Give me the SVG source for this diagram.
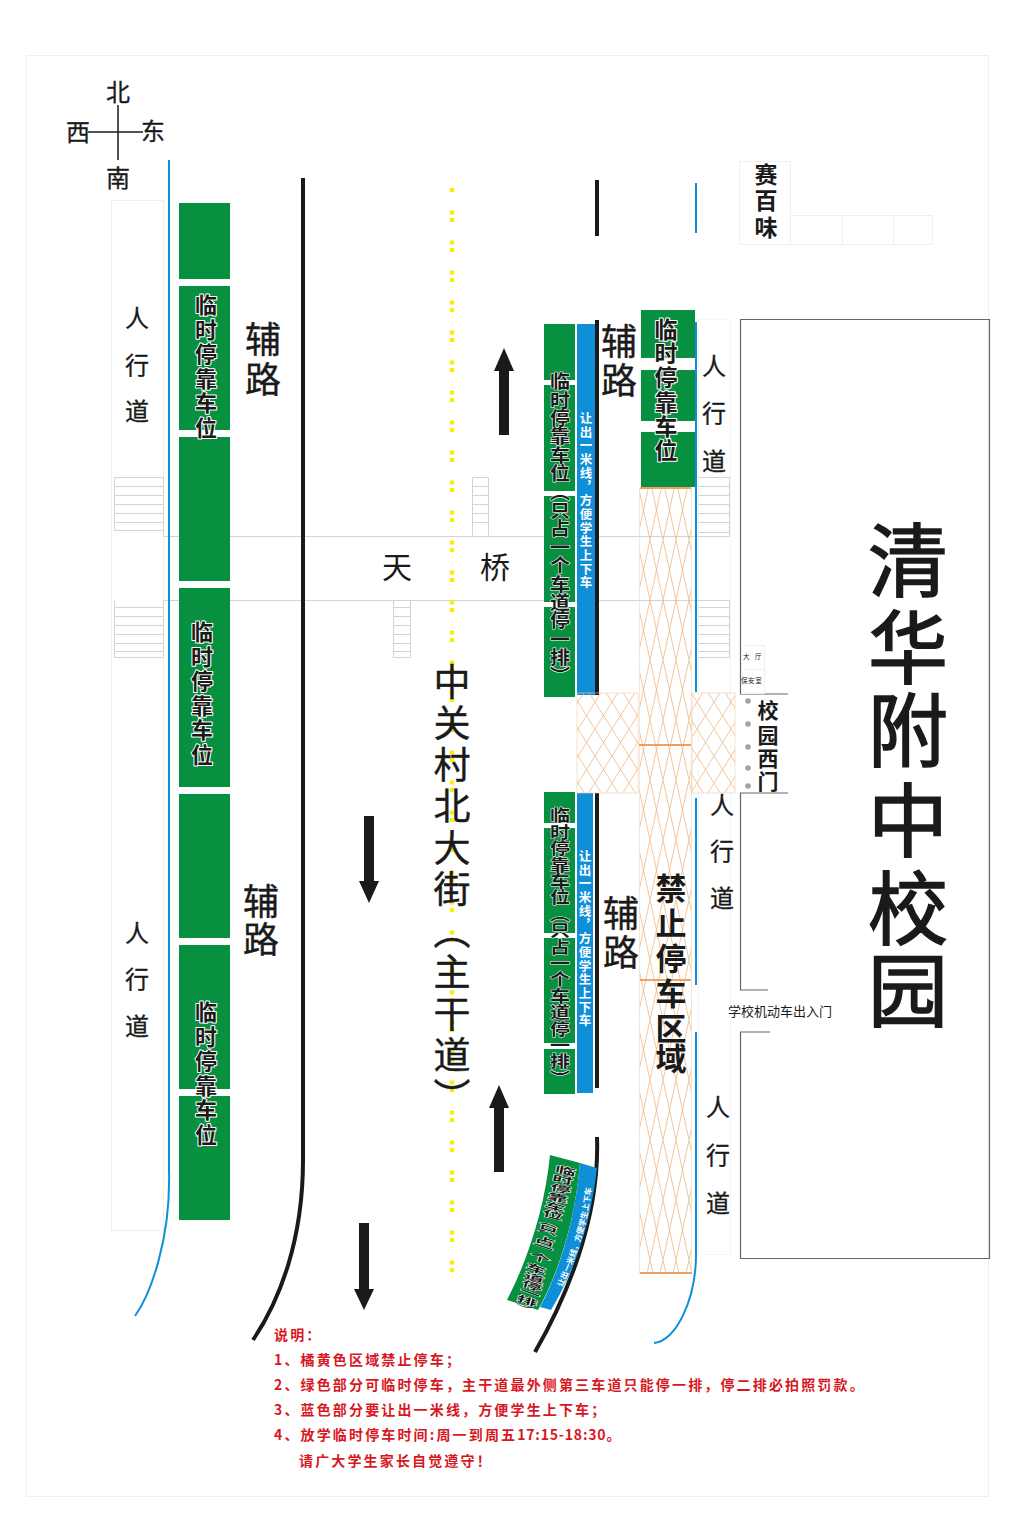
<svg xmlns="http://www.w3.org/2000/svg" width="1024" height="1527" viewBox="0 0 1024 1527">
<style>
text{font-family:"Noto Sans CJK SC","DejaVu Sans",sans-serif;fill:#1a1a1a}
.v{writing-mode:vertical-rl}
.g{fill:#06903f}
.b{fill:#0f8fd8}
.gt{font-weight:700;font-size:22px;text-anchor:middle;stroke:#fff;stroke-width:2px;paint-order:stroke;stroke-linejoin:round}
.gv{font-weight:700;font-size:20px;stroke:#fff;stroke-width:1.200px;paint-order:stroke;stroke-linejoin:round}
.cap{font-size:36px;text-anchor:middle;stroke:#1a1a1a;stroke-width:.4px}
.pw{font-size:24px;text-anchor:middle;stroke:#1a1a1a;stroke-width:.3px}
.bt{font-weight:700;fill:#fff;font-size:12.500px;letter-spacing:1.200px}
.faint{fill:none;stroke:#efefef;stroke-width:1}
.st{fill:none;stroke:#d4d4d4;stroke-width:1}
.leg{fill:#d8181f;font-weight:700;font-size:14px;letter-spacing:2.150px}
.blk{fill:none;stroke:#1a1a1a;stroke-width:4}
.blu{fill:none;stroke:#0f8fd8;stroke-width:2}
.ol{fill:none;stroke:#666;stroke-width:1.200}
.cv{font-weight:700;font-size:16px;stroke:#fff;stroke-width:1.300px;paint-order:stroke;text-anchor:middle}
</style>
<defs>
<pattern id="h1" width="13" height="60" patternUnits="userSpaceOnUse"><path d="M0 0L13 60M13 0L0 60" stroke="#ecae72" stroke-width=".7"/></pattern>
<pattern id="h2" width="17" height="27" patternUnits="userSpaceOnUse"><path d="M0 0L17 27M17 0L0 27" stroke="#ecae72" stroke-width=".7"/></pattern>
<path id="cvp" d="M562 1287C575 1260 588 1225 592 1183"/>
</defs>
<rect width="1024" height="1527" fill="#fff"/>
<rect x="26.500" y="55.500" width="962" height="1441" class="faint"/>
<g id="compass"><path d="M118 105V160M88 132H143" stroke="#1a1a1a" stroke-width="1.500" fill="none"/>
<text x="118" y="101" class="pw">北</text><text x="78" y="141" class="pw">西</text><text x="153" y="140" class="pw">东</text><text x="118" y="187" class="pw">南</text></g>
<g id="sidewalks">
<rect x="111.500" y="200.500" width="52" height="1030" class="faint"/>
<rect x="698.500" y="319.500" width="32" height="935" class="faint" style="stroke:#f6f6f6"/>
</g>
<g id="bridge">
<g transform="translate(.5,.5)">
<path d="M163 536H729M163 600H729" class="st"/>
<path d="M114 477H163V536M114 477V530M114 486H163M114 495H163M114 504H163M114 513H163M114 522H163M114 530H163" class="st"/>
<path d="M114 600V657H163V600M114 607H163M114 616H163M114 625H163M114 634H163M114 643H163M114 651H163" class="st"/>
<path d="M472 535V477H488V535M472 486H488M472 495H488M472 504H488M472 513H488M472 522H488" class="st"/>
<path d="M393 600V657H410V600M393 607H410M393 616H410M393 625H410M393 634H410M393 643H410M393 651H410" class="st"/>
<path d="M729 536V477H698M698 486H729M698 495H729M698 504H729M698 513H729M698 522H729M698 532H729" class="st"/>
<path d="M729 600V657H698M698 607H729M698 616H729M698 625H729M698 634H729M698 643H729M698 651H729" class="st"/>
</g>
<text x="397" y="578" style="font-size:30px;text-anchor:middle">天</text><text x="495" y="578" style="font-size:30px;text-anchor:middle">桥</text>
</g>
<g id="road-lines">
<path d="M169 160V1170C171 1240 150 1295 135 1316" class="blu"/>
<path d="M303 178V1160C303 1240 280 1300 253 1340" class="blk"/>
<path d="M452 188V1287" fill="none" stroke="#f8ec10" stroke-width="4.500" stroke-dasharray="4 18.500 4 3.500"/>
<path d="M597 180V236M597 320V695M597 793V1088M597 1137C600 1220 565 1300 535 1352" class="blk"/>
<path d="M696 183V233M696 322V692M696 798V985M696 1032V1250C697 1300 675 1342 654 1343" class="blu"/>
</g>
<g id="parking-left">
<rect x="179" y="203" width="51" height="76" class="g"/><rect x="179" y="286" width="51" height="144" class="g"/><rect x="179" y="437" width="51" height="144" class="g"/><rect x="179" y="588" width="51" height="199" class="g"/><rect x="179" y="794" width="51" height="144" class="g"/><rect x="179" y="945" width="51" height="144" class="g"/><rect x="179" y="1096" width="51" height="124" class="g"/>
<text class="gt" x="206 206 206 206 206 206" y="313 337.500 362 386.500 411 435.500">临时停靠车位</text>
<text class="gt" x="202 202 202 202 202 202" y="640 664.500 689 713.500 738 762.500">临时停靠车位</text>
<text class="gt" x="206 206 206 206 206 206" y="1020 1044.500 1069 1093.500 1118 1142.500">临时停靠车位</text>
</g>
<g id="parking-right-top">
<rect x="544" y="324" width="31" height="56" class="g"/><rect x="544" y="385" width="31" height="106" class="g"/><rect x="544" y="496" width="31" height="106" class="g"/><rect x="544" y="607" width="31" height="90" class="g"/>
<text class="gv v" transform="translate(560,372) scale(1,.92)">临时停靠车位（只占一个车道停一排）</text>
<rect x="577" y="324" width="18" height="371" class="b"/>
<text class="bt v" x="586" y="412">让出一米线，方便学生上下车</text>
</g>
<g id="parking-right-mid">
<rect x="544" y="792" width="31" height="31" class="g"/><rect x="544" y="828" width="31" height="105" class="g"/><rect x="544" y="938" width="31" height="105" class="g"/><rect x="544" y="1049" width="31" height="45" class="g"/>
<text class="gv v" transform="translate(560,807) scale(1,.82)">临时停靠车位（只占一个车道停一排）</text>
<rect x="577" y="793" width="16" height="300" class="b"/>
<text class="bt v" x="585" y="850">让出一米线，方便学生上下车</text>
</g>
<g id="parking-curve">
<path d="M550 1155L580 1163C575 1220 560 1270 538 1310L507 1300C530 1255 545 1205 550 1155Z" class="g"/>
<path d="M580 1163L597 1168C590 1230 572 1275 551 1310L540 1307C560 1270 575 1220 580 1163Z" class="b"/>
<text class="cv" transform="translate(565,1174) rotate(12) scale(1.300,.55)">临</text>
<text class="cv" transform="translate(562,1183) rotate(12) scale(1.300,.55)">时</text>
<text class="cv" transform="translate(560,1192) rotate(13) scale(1.300,.55)">停</text>
<text class="cv" transform="translate(557,1201) rotate(14) scale(1.300,.55)">靠</text>
<text class="cv" transform="translate(554,1210) rotate(15) scale(1.300,.55)">车</text>
<text class="cv" transform="translate(552,1218) rotate(15) scale(1.300,.55)">位</text>
<text class="cv v" transform="translate(550,1219) rotate(16) scale(1.300,.55)" style="text-anchor:start;font-size:14px">（</text>
<text class="cv" transform="translate(547,1233) rotate(17) scale(1.300,.55)">只</text>
<text class="cv" transform="translate(544,1244) rotate(17) scale(1.300,.55)">占</text>
<text class="cv" transform="translate(542,1250) rotate(18) scale(1.300,.55)">一</text>
<text class="cv" transform="translate(539,1261) rotate(18) scale(1.300,.55)">个</text>
<text class="cv" transform="translate(535,1272) rotate(19) scale(1.300,.55)">车</text>
<text class="cv" transform="translate(533,1281) rotate(19) scale(1.300,.55)">道</text>
<text class="cv" transform="translate(531,1289) rotate(20) scale(1.300,.55)">停</text>
<text class="cv" transform="translate(529,1296) rotate(20) scale(1.300,.55)">一</text>
<text class="cv" transform="translate(526,1304) rotate(18) scale(1.300,.55)">排</text>
<text class="v" transform="translate(525,1305) rotate(14) scale(1.300,.55)" style="font-size:14px;text-anchor:start">）</text>
<text class="bt" style="font-size:8px;letter-spacing:0"><textPath href="#cvp">让出一米线，方便学生上下车</textPath></text>
</g>
<g id="parking-right-east">
<rect x="641" y="310" width="54" height="48" class="g"/><rect x="641" y="370" width="54" height="51" class="g"/><rect x="641" y="432" width="54" height="55" class="g"/>
<text class="gt" x="666 666 666 666 666 666" y="338 362 386 411 435 459" style="font-size:23px">临时停靠车位</text>
</g>
<g id="no-parking">
<rect x="639.500" y="488" width="52" height="257" fill="url(#h1)" stroke="#f3d7ba" stroke-width=".6"/>
<rect x="639.500" y="745" width="52" height="528" fill="url(#h1)" stroke="#f3d7ba" stroke-width=".6"/>
<path d="M640 488H691M639 745H691M640 980H691M640 1273H692" stroke="#e8893a" stroke-width="1.300" fill="none"/>
<rect x="577" y="693" width="61" height="100" fill="url(#h2)" stroke="#f0cca8" stroke-width=".6"/>
<rect x="692" y="693" width="43" height="100" fill="url(#h2)" stroke="#f0cca8" stroke-width=".6"/>
<text x="671 671 671 671 671 671" y="900 935 970 1005 1040 1070" style="font-size:31px;font-weight:700;text-anchor:middle">禁止停车区域</text>
</g>
<g id="labels">
<text class="cap" x="263 263" y="353 393">辅路</text><text class="cap" x="261 261" y="915 953">辅路</text>
<text class="cap" x="619 619" y="355 394">辅路</text><text class="cap" x="621 621" y="927 966">辅路</text>
<text class="pw" x="137 137 137" y="327 374 420">人行道</text><text class="pw" x="137 137 137" y="942 988 1035">人行道</text>
<text class="pw" x="714 714 714" y="375 422 470">人行道</text><text class="pw" x="722 722 722" y="814 860 907">人行道</text><text class="pw" x="718 718 718" y="1116 1164 1212">人行道</text>
<text class="v" x="452" y="663" style="font-size:37px;letter-spacing:4.500px;stroke:#1a1a1a;stroke-width:.4px">中关村北大街（主干道）</text>
</g>
<g id="arrows" fill="#1a1a1a">
<path d="M499 435V371H494L504 348L514 371H509V435Z"/>
<path d="M364 816V881H359L369 903L379 881H374V816Z"/>
<path d="M494 1172V1108H489L499 1085L509 1108H504V1172Z"/>
<path d="M359 1223V1289H354L364 1310L374 1289H369V1223Z"/>
</g>
<g id="school">
<path d="M788 694H740.500V319.500H989.500V1258.500H740.500V1032H770M788 793H740.500V990H768" class="ol"/>
<text x="908 908 908 908 908 908" y="590 677 760 850 938 1020" style="font-size:80px;text-anchor:middle;stroke:#1a1a1a;stroke-width:1.500px">清华附中校园</text>
<rect x="741.500" y="645.500" width="23" height="24" class="faint"/><rect x="741.500" y="669.500" width="23" height="24" class="faint"/>
<text x="743" y="659" style="font-size:6.500px;letter-spacing:5.500px">大厅</text><text x="741" y="683" style="font-size:6.500px;letter-spacing:.6px">保安室</text>
<g fill="#a3a3a3"><circle cx="748" cy="701" r="2.800"/><circle cx="748" cy="724" r="2.800"/><circle cx="748" cy="747" r="2.800"/><circle cx="748" cy="768" r="2.800"/><circle cx="748" cy="786" r="2.800"/></g>
<text x="768 768 768 768" y="718 743 766 789" style="font-size:21px;font-weight:700;text-anchor:middle">校园西门</text>
<text x="728" y="1016" style="font-size:13px">学校机动车出入门</text>
</g>
<g id="shop">
<path d="M739.500 161.500H790.500V244.500H739.500ZM790.500 215.500H932.500V244.500H790.500M842.500 215.500V244.500M893.500 215.500V244.500" class="faint"/>
<text x="766 766 766" y="183 209 236" style="font-size:23px;font-weight:700;text-anchor:middle">赛百味</text>
</g>
<g id="legend">
<text class="leg" x="274" y="1340">说明：</text>
<text class="leg" x="274" y="1365">1、橘黄色区域禁止停车；</text>
<text class="leg" x="274" y="1390">2、绿色部分可临时停车，主干道最外侧第三车道只能停一排，停二排必拍照罚款。</text>
<text class="leg" x="274" y="1415">3、蓝色部分要让出一米线，方便学生上下车；</text>
<text class="leg" x="274" y="1440">4、放学临时停车时间:周一到周五<tspan style="letter-spacing:.8px">17:15-18:30</tspan>。</text>
<text class="leg" x="299" y="1466">请广大学生家长自觉遵守！</text>
</g>
</svg>
